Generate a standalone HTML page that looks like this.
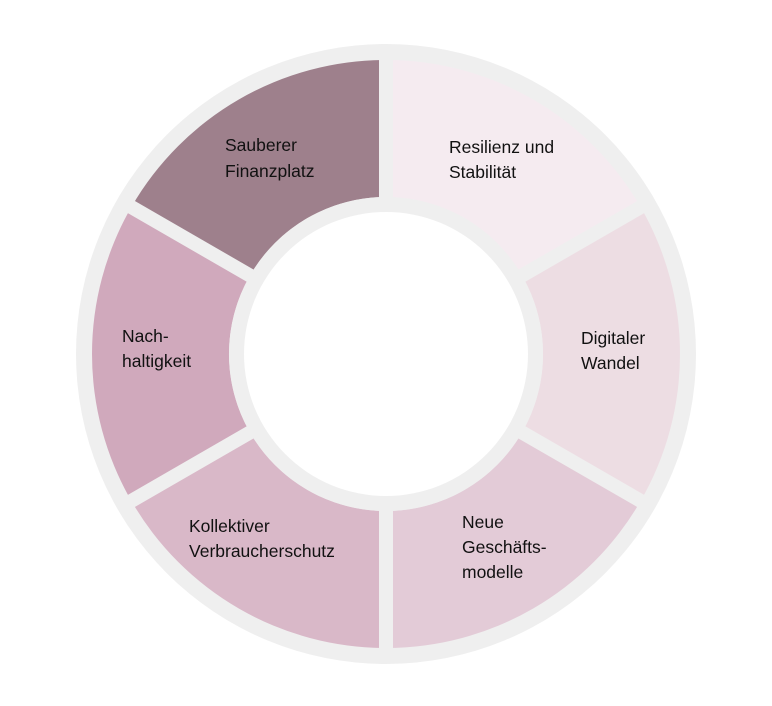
<!DOCTYPE html>
<html><head><meta charset="utf-8"><style>
html,body{margin:0;padding:0;background:#fff;}
svg{display:block;}
text{font-family:"Liberation Sans",sans-serif;font-size:17.5px;fill:#111;}
</style></head><body>
<svg width="772" height="706" viewBox="0 0 772 706">
<circle cx="386" cy="354" r="310" fill="#efefef"/>
<g>
<path d="M386,60 A294,294 0 0 1 640.6,207 L522,275.5 A157,157 0 0 0 386,197 Z" fill="#f5ebf0"/>
<path d="M640.6,207 A294,294 0 0 1 640.6,501 L522,432.5 A157,157 0 0 0 522,275.5 Z" fill="#eddde3"/>
<path d="M640.6,501 A294,294 0 0 1 386,648 L386,511 A157,157 0 0 0 522,432.5 Z" fill="#e3cbd7"/>
<path d="M386,648 A294,294 0 0 1 131.4,501 L250,432.5 A157,157 0 0 0 386,511 Z" fill="#d9b8c8"/>
<path d="M131.4,501 A294,294 0 0 1 131.4,207 L250,275.5 A157,157 0 0 0 250,432.5 Z" fill="#d0a9bc"/>
<path d="M131.4,207 A294,294 0 0 1 386,60 L386,197 A157,157 0 0 0 250,275.5 Z" fill="#9e808c"/>
</g>
<g stroke="#efefef" stroke-width="14">
<line x1="386" y1="354" x2="386" y2="54"/>
<line x1="386" y1="354" x2="386" y2="654"/>
<line x1="386" y1="354" x2="646" y2="204"/>
<line x1="386" y1="354" x2="646" y2="504"/>
<line x1="386" y1="354" x2="126" y2="204"/>
<line x1="386" y1="354" x2="126" y2="504"/>
</g>
<circle cx="386" cy="354" r="157" fill="#efefef"/>
<circle cx="386" cy="354" r="142" fill="#fff"/>
<text x="225" y="151">Sauberer</text>
<text x="225" y="177">Finanzplatz</text>
<text x="449" y="153">Resilienz und</text>
<text x="449" y="178">Stabilität</text>
<text x="581" y="344">Digitaler</text>
<text x="581" y="369">Wandel</text>
<text x="122" y="342">Nach-</text>
<text x="122" y="367">haltigkeit</text>
<text x="189" y="532">Kollektiver</text>
<text x="189" y="557">Verbraucherschutz</text>
<text x="462" y="528">Neue</text>
<text x="462" y="553">Geschäfts-</text>
<text x="462" y="578">modelle</text>
</svg>
</body></html>
